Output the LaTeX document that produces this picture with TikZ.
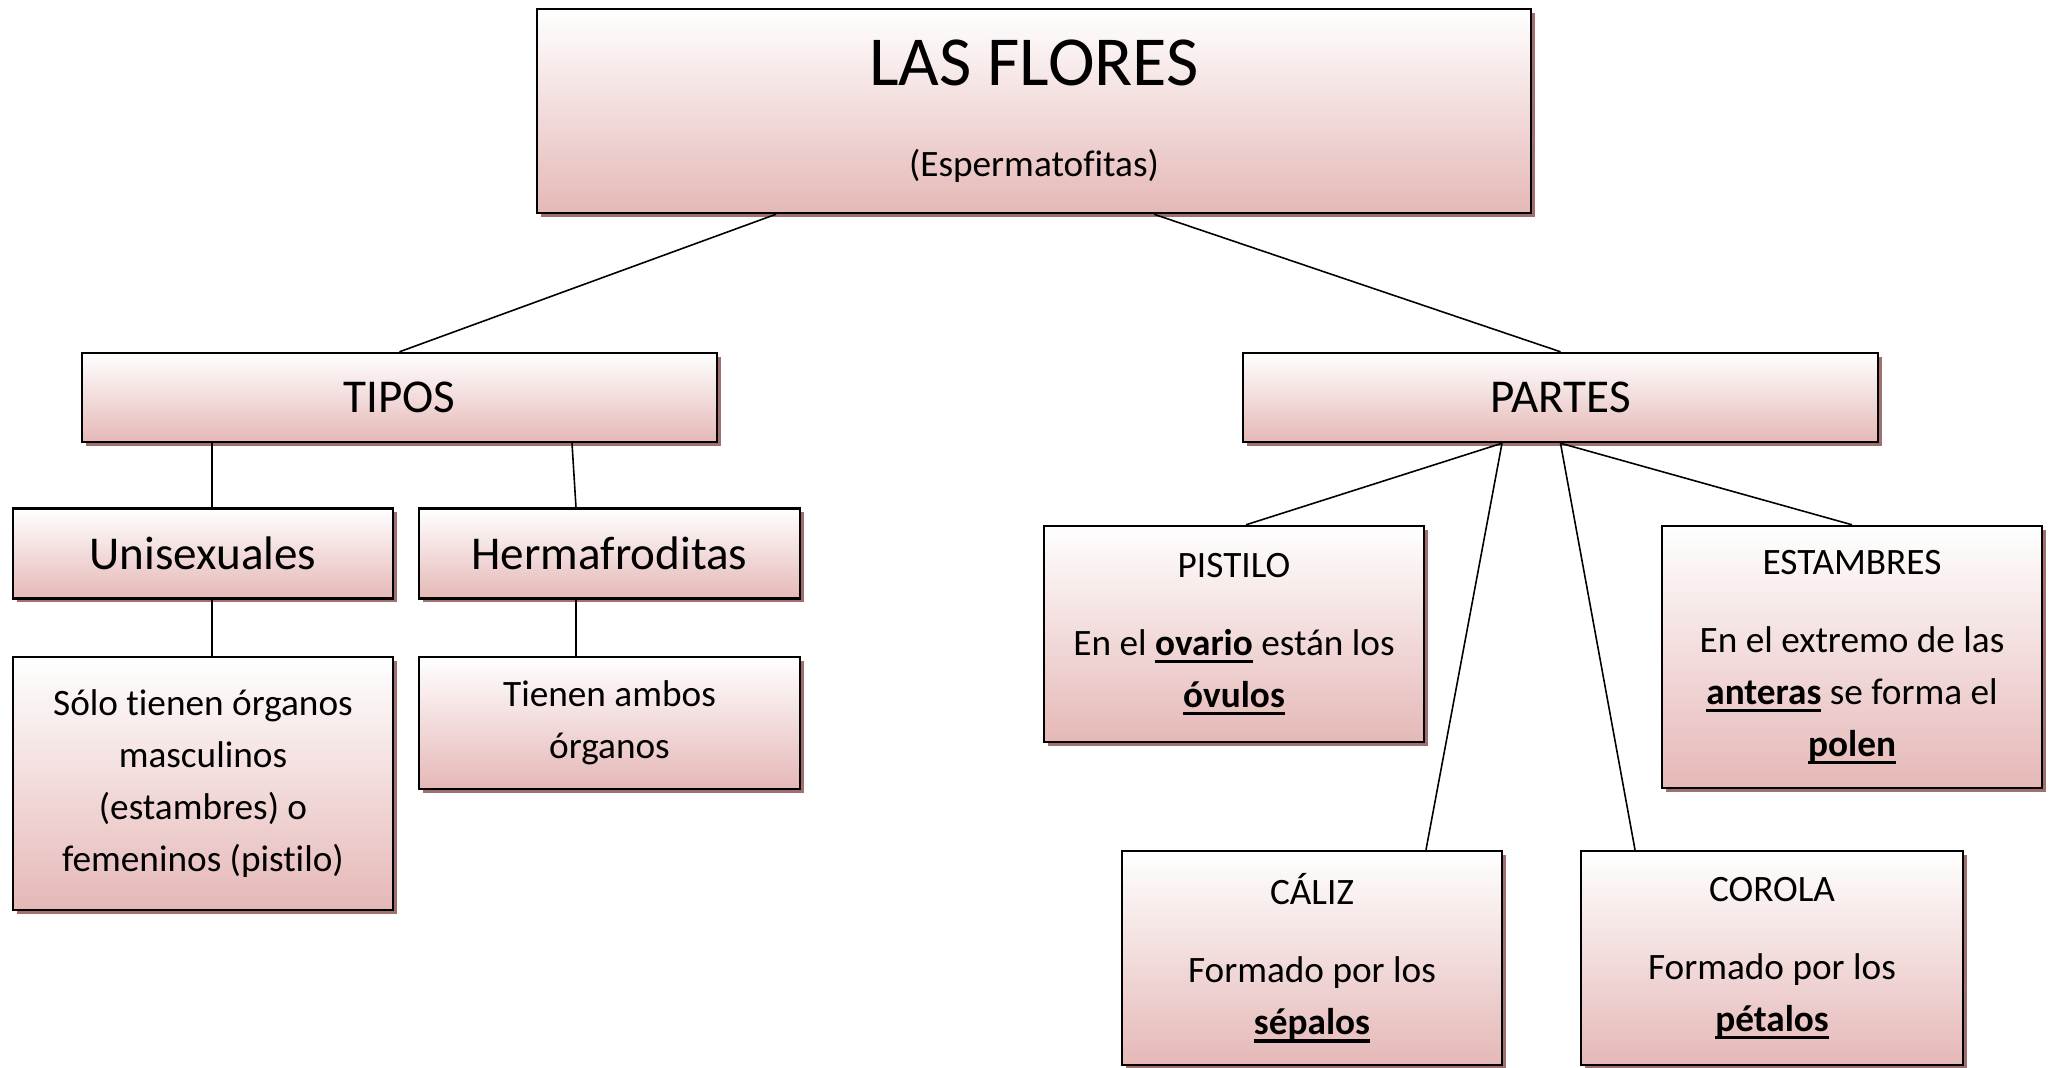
\documentclass[tikz,border=0pt]{standalone}
\usepackage{fontspec}
\setmainfont{Carlito}[Ligatures={NoCommon,NoContextual}]
\usetikzlibrary{shadows}
\definecolor{rosa}{RGB}{229,184,183}
\definecolor{sombra}{RGB}{120,50,50}
\newcommand{\clave}[1]{{\setbox0=\hbox{\textbf{#1}}\rlap{\rule[-2.3pt]{\wd0}{0.9pt}}\box0}}
\begin{document}
\begin{tikzpicture}[
  caja/.style={draw, line width=0.7pt, top color=white, bottom color=rosa,
    inner sep=0pt, align=center,
    drop shadow={shadow xshift=1pt, shadow yshift=-1.1pt, fill=sombra, opacity=0.7}},
  titulo/.style={font=\fontsize{13.4}{16}\selectfont},
  texto/.style={font=\fontsize{10.6}{14.8}\selectfont},
  linea/.style={draw, line width=0.45pt}]
\useasboundingbox (0,0) rectangle (20.52,-10.67);
% cabecera
\node[caja, texto, minimum width=9.94cm, minimum height=2.04cm] (flores) at (10.34,-1.11)
  {{\fontsize{20}{24}\selectfont LAS FLORES}\\[11pt](Espermatofitas)};
% tipos
\node[caja, titulo, minimum width=6.35cm, minimum height=0.89cm] (tipos) at (3.995,-3.975) {TIPOS};
\node[caja, titulo, minimum width=3.80cm, minimum height=0.90cm] (unisex) at (2.03,-5.535) {Unisexuales};
\node[caja, titulo, minimum width=3.81cm, minimum height=0.90cm] (herma) at (6.095,-5.535) {Hermafroditas};
\node[caja, texto, minimum width=3.80cm, minimum height=2.53cm] (solo) at (2.03,-7.835)
  {Sólo tienen órganos\\masculinos\\(estambres) o\\femeninos (pistilo)};
\node[caja, texto, minimum width=3.81cm, minimum height=1.32cm] (ambos) at (6.095,-7.23)
  {Tienen ambos\\órganos};
% partes
\node[caja, titulo, minimum width=6.35cm, minimum height=0.89cm] (partes) at (15.605,-3.975) {PARTES};
\node[caja, texto, minimum width=3.80cm, minimum height=2.16cm] (pistilo) at (12.34,-6.34)
  {PISTILO\\[7.4pt]En el \clave{ovario} están los\\\clave{óvulos}};
\node[caja, texto, minimum width=3.80cm, minimum height=2.62cm] (estambres) at (18.52,-6.57)
  {ESTAMBRES\\[7.4pt]En el extremo de las\\\clave{anteras} se forma el\\\clave{polen}};
\node[caja, texto, minimum width=3.80cm, minimum height=2.14cm] (caliz) at (13.12,-9.58)
  {CÁLIZ\\[7.4pt]Formado por los\\\clave{sépalos}};
\node[caja, texto, minimum width=3.82cm, minimum height=2.14cm] (corola) at (17.72,-9.58)
  {COROLA\\[7.4pt]Formado por los\\\clave{pétalos}};
% conectores
\path[linea] ([xshift=-2.58cm]flores.south) -- (tipos.north);
\path[linea] ([xshift=1.2cm]flores.south) -- (partes.north);
\path[linea] ([xshift=-1.875cm]tipos.south) -- ([xshift=0.09cm]unisex.north);
\path[linea] ([xshift=1.725cm]tipos.south) -- ([xshift=-0.335cm]herma.north);
\path[linea] ([xshift=0.09cm]unisex.south) -- ([xshift=0.09cm]solo.north);
\path[linea] ([xshift=-0.335cm]herma.south) -- ([xshift=-0.335cm]ambos.north);
\path[linea] ([xshift=-0.585cm]partes.south) -- ([xshift=0.12cm]pistilo.north);
\path[linea] ([xshift=-0.585cm]partes.south) -- ([xshift=1.14cm]caliz.north);
\path[linea] (partes.south) -- ([xshift=-1.37cm]corola.north);
\path[linea] (partes.south) -- (estambres.north);
\end{tikzpicture}
\end{document}
